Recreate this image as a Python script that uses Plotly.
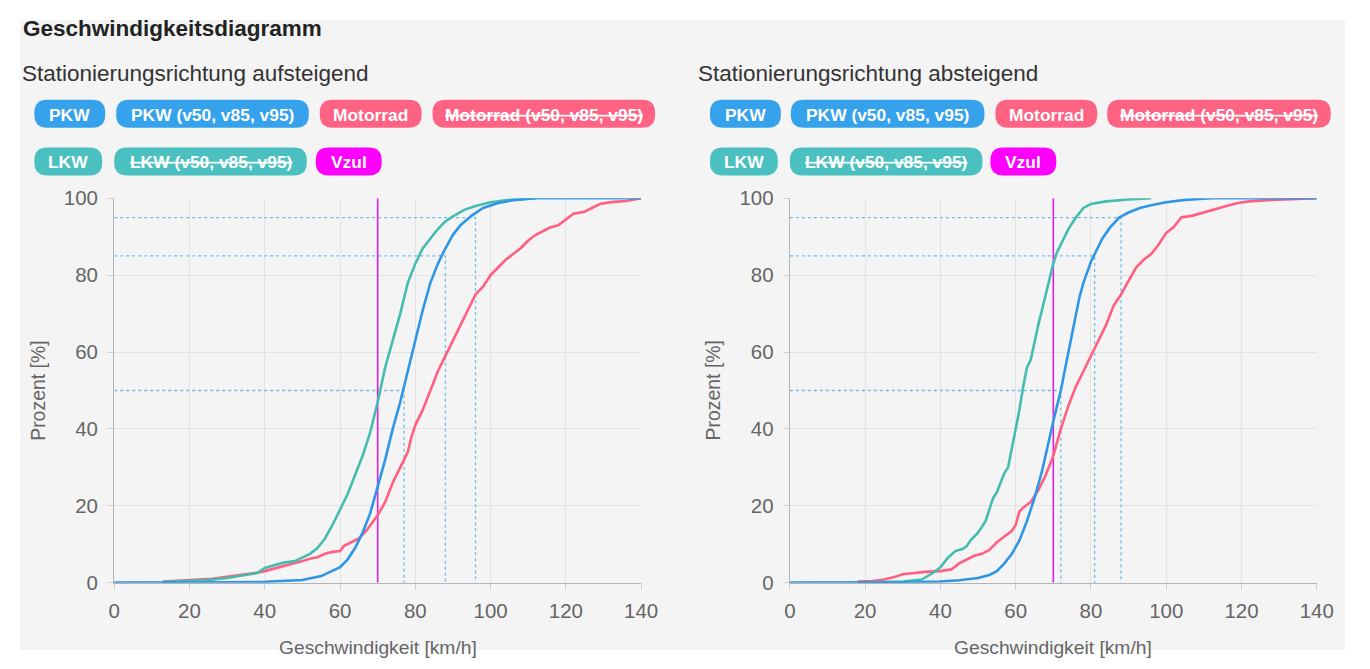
import plotly.graph_objects as go

W, H = 1354, 653
# measured mapping of the photographed page: shown = A * figure_px + B
AX, BX = 0.985, 12.6
AY, BY = 0.969, 17.9

# ---------------- data ----------------
speed_ticks = [0, 20, 40, 60, 80, 100, 120, 140]
pct_ticks = [0, 20, 40, 60, 80, 100]
vzul = 70
pct_levels = [50, 85, 95]

# Stationierungsrichtung aufsteigend
asc_pkw_x = [0, 13, 30, 40, 50, 55, 58, 60, 62, 64, 66, 68, 70, 72, 74, 76, 78, 80, 82, 84, 86, 88, 90, 92, 95, 98, 102, 106, 112, 140]
asc_pkw_y = [0, 0, 0.1, 0.2, 0.7, 1.7, 3, 4, 6, 9, 13, 18, 25, 32, 40, 47, 55, 63, 71, 78, 83, 87, 90.5, 93, 95.5, 97.5, 98.8, 99.5, 100, 100]
asc_lkw_x = [13, 20, 25, 30, 35, 38, 40, 42, 45, 48, 50, 52, 54, 56, 58, 60, 62, 64, 66, 68, 70, 72, 74, 76, 78, 80, 82, 84, 86, 88, 90, 93, 96, 100, 105, 112]
asc_lkw_y = [0.2, 0.4, 0.7, 1.2, 2, 2.5, 3.8, 4.3, 5.2, 5.6, 6.5, 7.5, 9, 11.5, 15, 19, 23, 28, 33, 39, 47, 56, 63, 70, 78, 83, 87, 89.5, 92, 94, 95.3, 97, 98, 99, 99.6, 100]
asc_mot_x = [13, 18, 22, 26, 30, 34, 38, 40, 42, 44, 46, 48, 50, 52, 54, 56, 58, 60, 61, 63, 65, 67, 69, 70, 72, 74, 76, 78, 79, 80, 82, 84, 86, 88, 90, 92, 94, 96, 98, 100, 102, 104, 106, 108, 110, 112, 114, 116, 118, 120, 122, 125, 127, 129, 132, 136, 140]
asc_mot_y = [0.3, 0.5, 0.8, 1.0, 1.5, 2.0, 2.6, 3, 3.5, 4.2, 4.6, 5, 5.6, 6.2, 6.6, 7.5, 8, 8.2, 9.5, 10.5, 11.5, 13.5, 16, 17.5, 21, 26, 30, 34, 38, 41, 45, 50, 55, 59, 63, 67, 71, 75, 77, 80, 82, 84, 85.5, 87, 89, 90.5, 91.5, 92.5, 93, 94.5, 96, 96.5, 97.5, 98.5, 99, 99.3, 100]
asc_pkw_v = [77, 88, 96]

# Stationierungsrichtung absteigend
desc_pkw_x = [0, 18, 30, 40, 45, 50, 53, 55, 57, 59, 61, 63, 65, 67, 69, 70, 71, 72, 73, 74, 75, 76, 77, 78, 79, 80, 81, 82, 83, 85, 87.5, 90, 93, 96, 100, 105, 112, 140]
desc_pkw_y = [0, 0, 0.1, 0.3, 0.6, 1.2, 2, 3, 5, 7.5, 11, 16, 22, 29, 38, 42, 46, 50, 55, 60, 65, 70, 74.5, 78, 81, 83.5, 85.5, 87.5, 89.5, 92.3, 95, 96.3, 97.5, 98.2, 99, 99.6, 100, 100]
desc_lkw_x = [18, 25, 30, 35, 38, 40, 42, 44, 46, 47, 48, 50, 52, 53, 54, 55, 56, 57, 58, 59, 60, 61, 62, 63, 64, 65, 66, 67, 68, 69, 70, 71, 72, 73, 74, 76, 78, 80, 84, 90, 96]
desc_lkw_y = [0, 0.1, 0.3, 0.8, 2.5, 4, 6.5, 8.2, 8.8, 9.5, 11, 13, 16, 19, 22, 23.5, 26, 28.5, 30, 35, 40, 45, 51, 56, 58, 63, 67, 71, 75, 79, 83, 86, 88, 90, 92, 95, 97.5, 98.5, 99.2, 99.7, 100]
desc_mot_x = [18, 22, 25, 28, 30, 33, 36, 40, 43, 45, 47, 49, 51, 53, 55, 57, 59, 60, 61, 62, 64, 66, 68, 70, 72, 74, 76, 78, 80, 82, 84, 86, 88, 90, 92, 94, 96, 98, 100, 102, 104, 107, 110, 113, 116, 119, 122, 128, 140]
desc_mot_y = [0.3, 0.4, 0.8, 1.5, 2.2, 2.5, 2.8, 3, 3.5, 5, 6, 7, 7.5, 8.5, 10.5, 12, 13.5, 15, 18.5, 19.5, 21, 24, 28, 33, 40, 46, 51, 55, 59, 63, 67, 72, 75, 78.5, 82, 84, 85.5, 88, 91, 92.5, 95, 95.5, 96.3, 97, 98, 98.8, 99.2, 99.6, 100]
desc_pkw_v = [72, 81, 88]

titles = ["Stationierungsrichtung aufsteigend", "Stationierungsrichtung absteigend"]
legend_rows = [
    [("PKW", "pkw", False), ("PKW (v50, v85, v95)", "pkw", False), ("Motorrad", "mot", False), ("Motorrad (v50, v85, v95)", "mot", True)],
    [("LKW", "lkw", False), ("LKW (v50, v85, v95)", "lkw", True), ("Vzul", "vzul", False)],
]

# ---------------- style ----------------
COL = {"pkw": "#36a2eb", "mot": "#ff6384", "lkw": "#4bc0c0", "vzul": "#ff00ff"}
LINE = {"pkw": "#2f96e6", "mot": "#ff5f80", "lkw": "#44bcb0"}
FONT = "Liberation Sans, Arial, sans-serif"
FS = 1 / ((AX + AY) / 2)  # font compensation


def fxp(x):  # target screen x -> figure px
    return (x - BX) / AX


def fyp(y):
    return (y - BY) / AY


def px(x):
    return min(max(fxp(x) / W, 0), 1)


def py(y):
    return min(max(1 - fyp(y) / H, 0), 1)


fig = go.Figure()

panels = [
    dict(pkw=(asc_pkw_x, asc_pkw_y), lkw=(asc_lkw_x, asc_lkw_y), mot=(asc_mot_x, asc_mot_y), v=asc_pkw_v,
         x0=113, x1=641, title_x=19, ytitle_x=37,
         pills_x=[[33, 115, 319, 432], [33, 113, 315]], pills_w=[[71, 193, 102, 223], [68, 193, 66]]),
    dict(pkw=(desc_pkw_x, desc_pkw_y), lkw=(desc_lkw_x, desc_lkw_y), mot=(desc_mot_x, desc_mot_y), v=desc_pkw_v,
         x0=790, x1=1318, title_x=696, ytitle_x=713,
         pills_x=[[710, 791, 996, 1108], [710, 790, 991]], pills_w=[[71, 194, 102, 224], [68, 193, 66]]),
]

y_top, y_bot = 197, 583
shapes = [dict(type="rect", xref="paper", yref="paper", x0=px(19), x1=px(1353), y0=0, y1=1,
               fillcolor="#f4f4f4", line=dict(width=0), layer="below")]
annotations = [dict(text="<b>Geschwindigkeitsdiagramm</b>", xref="paper", yref="paper", x=px(20), y=py(26),
                    xanchor="left", yanchor="middle", showarrow=False,
                    font=dict(size=22 * FS, color="#222", family=FONT))]


def rounded(x0, y0, x1, y1, r):
    rx, ry = r / AX / W, r / AY / H
    X0, X1, Y0, Y1 = px(x0), px(x1), py(y0), py(y1)  # Y0 top (bigger)
    return (f"M {X0 + rx},{Y0} L {X1 - rx},{Y0} Q {X1},{Y0} {X1},{Y0 - ry} "
            f"L {X1},{Y1 + ry} Q {X1},{Y1} {X1 - rx},{Y1} L {X0 + rx},{Y1} "
            f"Q {X0},{Y1} {X0},{Y1 + ry} L {X0},{Y0 - ry} Q {X0},{Y0} {X0 + rx},{Y0} Z")


row_cy = [112, 160]
for i, p in enumerate(panels):
    xa = "x" if i == 0 else "x2"
    ya = "y" if i == 0 else "y2"
    # dotted v50/v85/v95 guides
    for v, lv in zip(p["v"], pct_levels):
        fig.add_trace(go.Scatter(x=[0, v, v], y=[lv, lv, 0], mode="lines", xaxis=xa, yaxis=ya,
                                 line=dict(color="#6cbde6", width=1.3, dash="dot"), hoverinfo="skip", showlegend=False))
    # Vzul
    fig.add_trace(go.Scatter(x=[vzul, vzul], y=[0, 100], mode="lines", xaxis=xa, yaxis=ya,
                             line=dict(color="#dd22dd", width=1.6), name="Vzul", showlegend=False))
    for key in ["mot", "lkw", "pkw"]:
        xs, ys = p[key]
        fig.add_trace(go.Scatter(x=xs, y=ys, mode="lines", xaxis=xa, yaxis=ya,
                                 line=dict(color=LINE[key], width=2.6), showlegend=False))
    # subtitle
    annotations.append(dict(text=titles[i], xref="paper", yref="paper", x=px(p["title_x"]), y=py(72),
                            xanchor="left", yanchor="middle", showarrow=False,
                            font=dict(size=22 * FS, color="#333", family=FONT)))
    # axis titles
    annotations.append(dict(text="Geschwindigkeit [km/h]", xref="paper", yref="paper",
                            x=px((p["x0"] + p["x1"]) / 2), y=py(648), xanchor="center", yanchor="middle",
                            showarrow=False, font=dict(size=18.8 * FS, color="#666", family=FONT)))
    annotations.append(dict(text="Prozent [%]", xref="paper", yref="paper", textangle=-90,
                            x=px(p["ytitle_x"]), y=py((y_top + y_bot) / 2), xanchor="center", yanchor="middle",
                            showarrow=False, font=dict(size=19 * FS, color="#666", family=FONT)))
    # pills
    for r, row in enumerate(legend_rows):
        for j, (label, key, strike) in enumerate(row):
            x0 = p["pills_x"][r][j]
            w = p["pills_w"][r][j]
            cy = row_cy[r]
            shapes.append(dict(type="path", xref="paper", yref="paper",
                               path=rounded(x0, cy - 14, x0 + w, cy + 14, 13),
                               fillcolor=COL[key], line=dict(width=0), layer="below"))
            f = dict(size=17 * FS, color="white", family=FONT, weight="bold")
            if strike:
                f["lineposition"] = "through"
            annotations.append(dict(text=label, xref="paper", yref="paper", x=px(x0 + w / 2), y=py(cy + 1),
                                    xanchor="center", yanchor="middle", showarrow=False, font=f))

axis_common = dict(range=[0, 140], tickvals=speed_ticks, showgrid=True, gridcolor="#e3e3e3", gridwidth=1,
                   showline=True, linecolor="#b5b5b5", linewidth=1.2, ticks="outside", ticklen=6,
                   tickcolor="#d0d0d0", tickfont=dict(size=20 * FS, color="#666", family=FONT), zeroline=False,
                   ticklabelstandoff=4, fixedrange=True)
yaxis_common = dict(range=[0, 100], tickvals=pct_ticks, showgrid=True, gridcolor="#e3e3e3", gridwidth=1,
                    showline=True, linecolor="#b5b5b5", linewidth=1.2, ticks="outside", ticklen=6,
                    tickcolor="#d0d0d0", tickfont=dict(size=20 * FS, color="#666", family=FONT), zeroline=False,
                    ticklabelstandoff=5, fixedrange=True)

dom_y = [py(y_bot), py(y_top)]
fig.update_layout(
    width=W, height=H, margin=dict(l=0, r=0, t=0, b=0),
    paper_bgcolor="white", plot_bgcolor="white",
    xaxis=dict(axis_common, domain=[px(panels[0]["x0"]), px(panels[0]["x1"])], anchor="y"),
    yaxis=dict(yaxis_common, domain=dom_y, anchor="x"),
    xaxis2=dict(axis_common, domain=[px(panels[1]["x0"]), px(panels[1]["x1"])], anchor="y2"),
    yaxis2=dict(yaxis_common, domain=dom_y, anchor="x2"),
    shapes=shapes, annotations=annotations, showlegend=False, hovermode="closest",
)

fig.write_html("out.html")
